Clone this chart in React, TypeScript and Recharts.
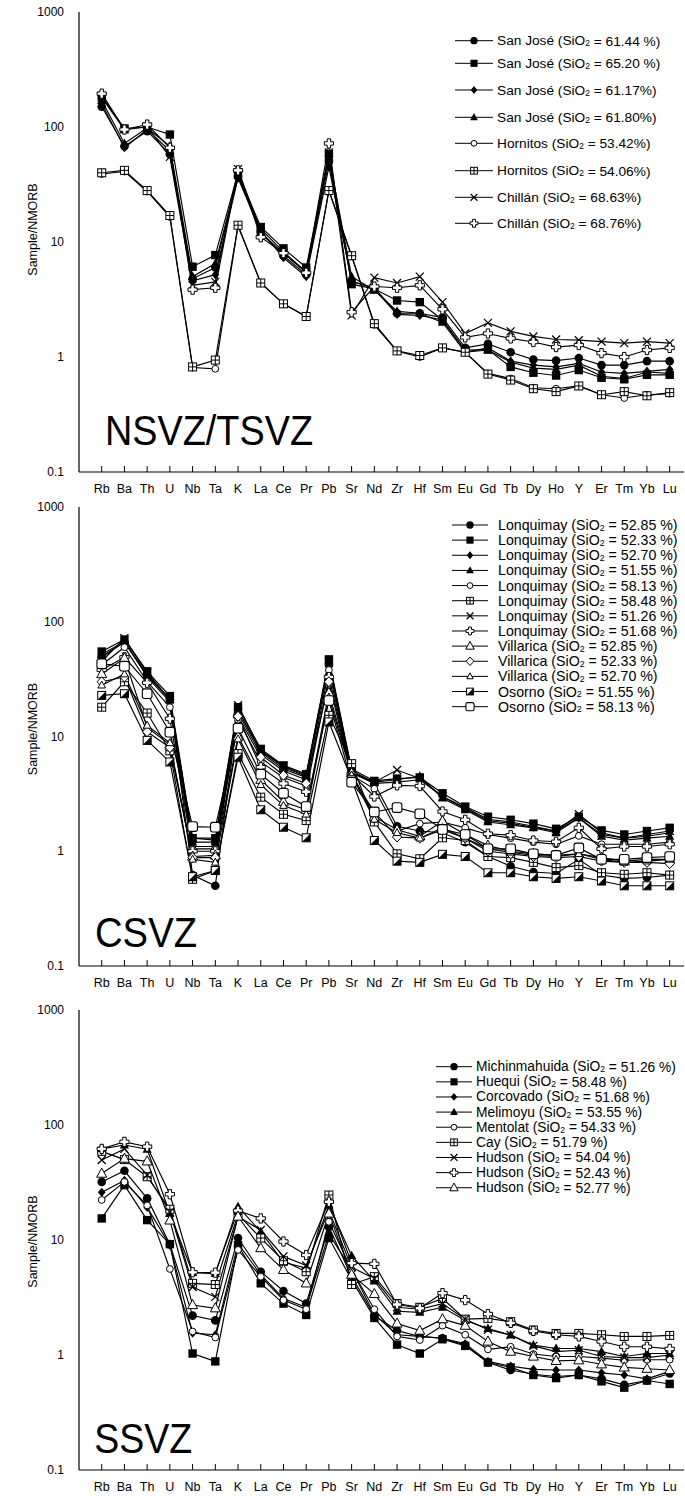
import React from "react";
import { LineChart, Line, XAxis, YAxis } from "recharts";

// x categories (N-MORB normalised spider diagram)
const elements = ["Rb", "Ba", "Th", "U", "Nb", "Ta", "K", "La", "Ce", "Pr", "Pb", "Sr", "Nd", "Zr", "Hf", "Sm", "Eu", "Gd", "Tb", "Dy", "Ho", "Y", "Er", "Tm", "Yb", "Lu"];
const xTicks = elements.map((_, i) => i + 1);
const yTicks = [0.1, 1, 10, 100, 1000];

// NSVZ/TSVZ
const sj6144 = [150, 68, 92, 58, 4.8, 6.0, 37, 12, 7.6, 5.2, 50, 4.5, 4.0, 2.4, 2.4, 2.2, 1.2, 1.3, 1.1, 0.95, 0.93, 0.98, 0.85, 0.85, 0.92, 0.92];
const sj6520 = [185, 97, 100, 86, 6.1, 7.7, 40, 13.5, 8.8, 6.0, 58, 4.3, 3.9, 3.1, 3.0, 2.1, 1.15, 1.16, 0.82, 0.73, 0.69, 0.77, 0.66, 0.64, 0.7, 0.7];
const sj6117 = [160, 66, 95, 62, 4.6, 5.2, 36, 12.5, 7.3, 5.0, 45, 4.6, 3.9, 2.35, 2.3, 2.1, 1.1, 1.2, 0.92, 0.85, 0.82, 0.88, 0.74, 0.72, 0.75, 0.78];
const sj6180 = [170, 72, 98, 68, 5.0, 6.5, 38, 13, 8.2, 5.5, 55, 5.0, 3.8, 2.5, 2.4, 2.0, 1.1, 1.15, 0.9, 0.8, 0.78, 0.85, 0.68, 0.65, 0.74, 0.72];
const hor5342 = [39, 41, 27.5, 16.5, 0.81, 0.79, 13.7, 4.4, 2.9, 2.25, 28, 7.5, 1.9, 1.12, 1.0, 1.2, 1.1, 0.72, 0.65, 0.54, 0.53, 0.56, 0.47, 0.44, 0.47, 0.48];
const hor5406 = [40, 42, 28, 17, 0.82, 0.94, 14, 4.4, 2.9, 2.25, 28, 7.6, 1.95, 1.13, 1.03, 1.2, 1.1, 0.71, 0.63, 0.53, 0.5, 0.56, 0.47, 0.5, 0.46, 0.49];
const chi6863 = [180, 95, 100, 55, 4.2, 4.5, 43, 12, 8.0, 5.5, 60, 2.3, 4.9, 4.4, 5.0, 3.0, 1.6, 1.98, 1.67, 1.51, 1.42, 1.4, 1.36, 1.32, 1.36, 1.32];
const chi6876 = [195, 95, 105, 66, 3.85, 4.0, 42, 11, 8.0, 5.4, 72, 2.45, 4.1, 4.0, 4.2, 2.6, 1.48, 1.6, 1.45, 1.35, 1.22, 1.27, 1.08, 1.0, 1.15, 1.2];

// CSVZ
const lq5285 = [50, 66, 34, 21, 0.62, 0.5, 16, 7.0, 5.0, 4.2, 42, 5.0, 3.9, 1.65, 1.5, 1.45, 1.2, 0.9, 0.74, 0.66, 0.64, 0.85, 0.62, 0.58, 0.59, 0.62];
const lq5233 = [55, 70, 37, 22.5, 1.3, 1.3, 18, 7.8, 5.6, 4.7, 47, 5.2, 4.1, 4.3, 4.4, 3.2, 2.45, 2.0, 1.88, 1.74, 1.57, 2.0, 1.52, 1.4, 1.5, 1.6];
const lq5270 = [48, 68, 33, 20, 1.1, 1.1, 17, 7.3, 5.2, 4.4, 44, 4.8, 3.9, 4.0, 4.2, 3.0, 2.35, 1.85, 1.75, 1.62, 1.5, 1.95, 1.4, 1.3, 1.35, 1.45];
const lq5155 = [52, 67, 35, 21, 1.2, 1.2, 17, 7.5, 5.4, 4.5, 46, 5.0, 4.0, 4.2, 4.5, 2.9, 2.3, 1.8, 1.7, 1.6, 1.45, 1.95, 1.35, 1.25, 1.3, 1.35];
const lq5813 = [42, 60, 30, 18, 1.05, 1.05, 14, 6.0, 4.4, 3.7, 38, 4.6, 3.5, 1.5, 1.74, 1.8, 1.6, 1.4, 1.3, 1.2, 1.15, 1.36, 1.15, 1.15, 1.15, 1.2];
const lq5848 = [18, 30, 16, 7.5, 0.57, 0.68, 7.1, 2.96, 2.1, 1.85, 15.3, 5.8, 1.8, 0.95, 0.86, 1.31, 1.24, 0.9, 0.88, 0.8, 0.72, 0.75, 0.65, 0.63, 0.65, 0.62];
const lq5126 = [45, 72, 36, 21, 1.3, 1.25, 18.7, 7.6, 5.5, 4.6, 45, 4.9, 4.0, 5.1, 4.3, 3.0, 2.4, 1.9, 1.8, 1.65, 1.5, 2.1, 1.45, 1.3, 1.4, 1.5];
const lq5168 = [38, 49, 29.4, 14.3, 1.0, 1.0, 15, 5.4, 3.9, 3.3, 33, 4.7, 3.0, 3.75, 3.7, 2.22, 1.88, 1.42, 1.38, 1.24, 1.21, 1.6, 1.05, 1.1, 1.1, 1.15];
const vi5285 = [35, 48, 12, 8.5, 0.9, 0.92, 10, 4.2, 2.7, 2.3, 24, 4.8, 2.0, 1.54, 1.35, 1.83, 1.4, 1.12, 1.0, 0.95, 0.92, 0.95, 0.88, 0.82, 0.85, 0.85];
const vi5233 = [30, 33, 11, 8, 0.88, 0.88, 15, 6.6, 4.6, 3.9, 30, 4.5, 2.2, 1.33, 1.3, 1.54, 1.3, 1.0, 0.95, 0.9, 0.88, 0.9, 0.82, 0.8, 0.8, 0.78];
const vi5270 = [28, 35, 12.5, 8.8, 0.85, 0.8, 9.5, 3.8, 2.5, 2.1, 22, 4.6, 1.9, 1.45, 1.3, 1.6, 1.3, 1.05, 0.98, 0.92, 0.9, 0.95, 0.85, 0.8, 0.82, 0.85];
const os5155 = [22.8, 23.6, 9.25, 6.0, 0.6, 0.68, 6.6, 2.3, 1.62, 1.31, 13.4, 4.2, 1.24, 0.82, 0.8, 0.94, 0.9, 0.65, 0.65, 0.6, 0.58, 0.6, 0.55, 0.5, 0.5, 0.5];
const os5813 = [43, 41, 23.6, 10.9, 1.64, 1.62, 11.8, 4.7, 3.2, 2.45, 20.6, 4.0, 2.2, 2.4, 2.12, 1.55, 1.4, 1.05, 1.05, 0.95, 0.92, 1.07, 0.85, 0.85, 0.88, 0.9];

// SSVZ
const michin = [32, 40, 23, 9.2, 2.2, 2.0, 10.4, 5.3, 3.6, 2.8, 13, 4.8, 2.2, 1.63, 1.45, 1.4, 1.22, 0.86, 0.74, 0.68, 0.65, 0.67, 0.62, 0.55, 0.6, 0.69];
const huequi = [15.4, 30, 14.9, 9.2, 1.03, 0.88, 9.0, 4.2, 2.8, 2.23, 10.4, 4.5, 2.1, 1.23, 1.03, 1.37, 1.2, 0.86, 0.78, 0.67, 0.63, 0.67, 0.59, 0.52, 0.6, 0.56];
const corcov = [26, 33, 19.2, 9.0, 1.55, 1.5, 9.3, 5.0, 3.1, 2.6, 11.3, 5.5, 2.25, 1.5, 1.45, 1.4, 1.25, 0.88, 0.8, 0.75, 0.74, 0.74, 0.7, 0.67, 0.62, 0.72];
const melim = [62, 67, 61.5, 17, 5.2, 5.1, 19.5, 11.8, 6.4, 5.7, 20, 7.3, 4.4, 2.4, 2.35, 2.6, 2.0, 1.7, 1.49, 1.22, 1.14, 1.14, 1.07, 0.97, 1.03, 1.03];
const mentol = [22.3, 32, 20, 5.6, 1.6, 1.42, 8.2, 4.8, 3.0, 2.5, 14.4, 5.5, 2.5, 1.45, 1.35, 1.8, 1.5, 1.12, 1.18, 1.02, 0.97, 0.97, 0.94, 0.9, 0.91, 0.91];
const cay = [59, 50, 35.5, 18.5, 4.2, 4.1, 16.7, 10.4, 6.6, 5.3, 24.6, 4.1, 4.8, 2.8, 2.6, 3.1, 2.05, 2.08, 1.95, 1.65, 1.54, 1.54, 1.5, 1.45, 1.45, 1.48];
const hud5404 = [49.6, 62, 36.7, 17.5, 3.9, 3.2, 16, 12.2, 7.2, 6.0, 18, 5.8, 4.6, 2.6, 2.5, 2.8, 2.05, 1.66, 1.49, 1.2, 1.07, 1.1, 0.97, 0.95, 0.95, 1.0];
const hud5243 = [62, 71.4, 64.8, 25, 5.24, 5.2, 18, 15.4, 9.7, 7.4, 21.5, 6.3, 6.2, 2.75, 2.55, 3.45, 3.0, 2.27, 1.9, 1.62, 1.5, 1.45, 1.31, 1.18, 1.18, 1.13];
const hud5277 = [37.8, 51, 48.3, 14.8, 2.72, 2.55, 16, 8.5, 5.5, 4.2, 17, 5.0, 3.4, 1.88, 1.63, 2.05, 1.8, 1.31, 1.07, 0.97, 0.89, 0.9, 0.83, 0.78, 0.76, 0.74];

type Kind =
  | "circle" | "square" | "diamond" | "triangle" | "ocircle" | "gridsq" | "cross"
  | "plus" | "otriangle" | "odiamond" | "otriSmall" | "halfsq" | "osquare";

interface Series { name: string; kind: Kind; values: number[] }

const panel1: Series[] = [
  { name: "San José (SiO₂ = 61.44 %)", kind: "circle", values: sj6144 },
  { name: "San José (SiO₂ = 65.20 %)", kind: "square", values: sj6520 },
  { name: "San José (SiO₂ = 61.17%)", kind: "diamond", values: sj6117 },
  { name: "San José (SiO₂ = 61.80%)", kind: "triangle", values: sj6180 },
  { name: "Hornitos (SiO₂ = 53.42%)", kind: "ocircle", values: hor5342 },
  { name: "Hornitos (SiO₂ = 54.06%)", kind: "gridsq", values: hor5406 },
  { name: "Chillán (SiO₂ = 68.63%)", kind: "cross", values: chi6863 },
  { name: "Chillán (SiO₂ = 68.76%)", kind: "plus", values: chi6876 },
];

const panel2: Series[] = [
  { name: "Lonquimay (SiO₂ = 52.85 %)", kind: "circle", values: lq5285 },
  { name: "Lonquimay (SiO₂ = 52.33 %)", kind: "square", values: lq5233 },
  { name: "Lonquimay (SiO₂ = 52.70 %)", kind: "diamond", values: lq5270 },
  { name: "Lonquimay (SiO₂ = 51.55 %)", kind: "triangle", values: lq5155 },
  { name: "Lonquimay (SiO₂ = 58.13 %)", kind: "ocircle", values: lq5813 },
  { name: "Lonquimay (SiO₂ = 58.48 %)", kind: "gridsq", values: lq5848 },
  { name: "Lonquimay (SiO₂ = 51.26 %)", kind: "cross", values: lq5126 },
  { name: "Lonquimay (SiO₂ = 51.68 %)", kind: "plus", values: lq5168 },
  { name: "Villarica (SiO₂ = 52.85 %)", kind: "otriangle", values: vi5285 },
  { name: "Villarica (SiO₂ = 52.33 %)", kind: "odiamond", values: vi5233 },
  { name: "Villarica (SiO₂ = 52.70 %)", kind: "otriSmall", values: vi5270 },
  { name: "Osorno (SiO₂ = 51.55 %)", kind: "halfsq", values: os5155 },
  { name: "Osorno (SiO₂ = 58.13 %)", kind: "osquare", values: os5813 },
];

const panel3: Series[] = [
  { name: "Michinmahuida (SiO₂ = 51.26 %)", kind: "circle", values: michin },
  { name: "Huequi (SiO₂ = 58.48 %)", kind: "square", values: huequi },
  { name: "Corcovado (SiO₂ = 51.68 %)", kind: "diamond", values: corcov },
  { name: "Melimoyu (SiO₂ = 53.55 %)", kind: "triangle", values: melim },
  { name: "Mentolat (SiO₂ = 54.33 %)", kind: "ocircle", values: mentol },
  { name: "Cay (SiO₂ = 51.79 %)", kind: "gridsq", values: cay },
  { name: "Hudson (SiO₂ = 54.04 %)", kind: "cross", values: hud5404 },
  { name: "Hudson (SiO₂ = 52.43 %)", kind: "plus", values: hud5243 },
  { name: "Hudson (SiO₂ = 52.77 %)", kind: "otriangle", values: hud5277 },
];

const FONT = "'Liberation Sans', Arial, Helvetica, sans-serif";
const W = 685;
const MT = 12;
const XB_H = 26;

function Marker({ kind, cx, cy, s = 1 }: { kind: Kind; cx: number; cy: number; s?: number }) {
  const k = "#000";
  const w = "#fff";
  switch (kind) {
    case "circle":
      return <circle cx={cx} cy={cy} r={4.3 * s} fill={k} />;
    case "square":
      return <rect x={cx - 4.2 * s} y={cy - 4.2 * s} width={8.4 * s} height={8.4 * s} fill={k} />;
    case "diamond":
      return <polygon points={`${cx},${cy - 4.6 * s} ${cx + 3.8 * s},${cy} ${cx},${cy + 4.6 * s} ${cx - 3.8 * s},${cy}`} fill={k} />;
    case "triangle":
      return <polygon points={`${cx},${cy - 5 * s} ${cx + 4.6 * s},${cy + 3.4 * s} ${cx - 4.6 * s},${cy + 3.4 * s}`} fill={k} />;
    case "ocircle":
      return <circle cx={cx} cy={cy} r={3.4 * s} fill={w} stroke={k} strokeWidth={1} />;
    case "gridsq": {
      const h = 4 * s;
      return (
        <g>
          <rect x={cx - h} y={cy - h} width={2 * h} height={2 * h} fill={w} stroke={k} strokeWidth={1} />
          <line x1={cx} x2={cx} y1={cy - h} y2={cy + h} stroke={k} strokeWidth={1} />
          <line x1={cx - h} x2={cx + h} y1={cy} y2={cy} stroke={k} strokeWidth={1} />
        </g>
      );
    }
    case "cross": {
      const h = 4 * s;
      return (
        <g stroke={k} strokeWidth={1.3}>
          <line x1={cx - h} y1={cy - h} x2={cx + h} y2={cy + h} />
          <line x1={cx - h} y1={cy + h} x2={cx + h} y2={cy - h} />
        </g>
      );
    }
    case "plus": {
      const a = 1.7 * s;
      const b = 4.6 * s;
      const pts = [
        [-a, -b], [a, -b], [a, -a], [b, -a], [b, a], [a, a], [a, b], [-a, b], [-a, a], [-b, a], [-b, -a], [-a, -a],
      ].map(([dx, dy]) => `${cx + dx},${cy + dy}`).join(" ");
      return <polygon points={pts} fill={w} stroke={k} strokeWidth={1} />;
    }
    case "otriangle":
      return <polygon points={`${cx},${cy - 5.5 * s} ${cx + 5 * s},${cy + 3.6 * s} ${cx - 5 * s},${cy + 3.6 * s}`} fill={w} stroke={k} strokeWidth={1} />;
    case "odiamond":
      return <polygon points={`${cx},${cy - 5 * s} ${cx + 4.6 * s},${cy} ${cx},${cy + 5 * s} ${cx - 4.6 * s},${cy}`} fill={w} stroke={k} strokeWidth={1} />;
    case "otriSmall":
      return <polygon points={`${cx},${cy - 4.2 * s} ${cx + 3.8 * s},${cy + 2.8 * s} ${cx - 3.8 * s},${cy + 2.8 * s}`} fill={w} stroke={k} strokeWidth={1} />;
    case "halfsq": {
      const h = 4 * s;
      return (
        <g>
          <rect x={cx - h} y={cy - h} width={2 * h} height={2 * h} fill={w} stroke={k} strokeWidth={1} />
          <polygon points={`${cx + h},${cy - h} ${cx + h},${cy + h} ${cx - h},${cy + h}`} fill={k} />
        </g>
      );
    }
    case "osquare": {
      const h = 4.8 * s;
      return <rect x={cx - h} y={cy - h} width={2 * h} height={2 * h} rx={2.2 * s} fill={w} stroke={k} strokeWidth={1.1} />;
    }
  }
  return null;
}

function SubName({ name, x, y, size }: { name: string; x: number; y: number; size: number }) {
  const [pre, post] = name.split("₂");
  return (
    <text x={x} y={y} fontFamily={FONT} fontSize={size} fill="#000" dominantBaseline="central">
      {pre}
      <tspan fontSize={size * 0.62} dy={2.5}>2</tspan>
      <tspan dy={-2.5}>{post}</tspan>
    </text>
  );
}

interface PanelCfg {
  series: Series[];
  plotTop: number;
  plotH: number;
}

function SpiderPanel({ cfg }: { cfg: PanelCfg }) {
  const data = elements.map((el, i) => {
    const row: Record<string, number | string> = { x: i + 1, el };
    cfg.series.forEach((s, j) => {
      row["s" + j] = s.values[i];
    });
    return row;
  });
  const axisY = MT + cfg.plotH;
  return (
    <div style={{ position: "absolute", left: 0, top: cfg.plotTop - MT }}>
      <LineChart
        width={W}
        height={MT + cfg.plotH + XB_H}
        data={data}
        margin={{ top: MT, right: 1, bottom: 0, left: 0 }}
      >
        <XAxis
          xAxisId="b"
          type="number"
          dataKey="x"
          domain={[0, 26.63]}
          ticks={xTicks}
          interval={0}
          allowDataOverflow
          height={XB_H}
          axisLine={{ stroke: "#000", strokeWidth: 1.2 }}
          tickLine={false}
          tick={(p: any) => (
            <g key={"xb" + p.index}>
              <line x1={p.x} x2={p.x} y1={axisY} y2={axisY - 6} stroke="#000" strokeWidth={1} />
              <text x={p.x} y={axisY + 17} textAnchor="middle" dominantBaseline="central" fontFamily={FONT} fontSize={12.5} fill="#000">
                {elements[p.payload.value - 1]}
              </text>
            </g>
          )}
        />
        <XAxis
          xAxisId="t"
          orientation="top"
          type="number"
          dataKey="x"
          domain={[0, 26.63]}
          ticks={xTicks}
          interval={0}
          allowDataOverflow
          height={0}
          axisLine={{ stroke: "#000", strokeWidth: 1.2 }}
          tickLine={false}
          tick={(p: any) => (
            <line key={"xt" + p.index} x1={p.x} x2={p.x} y1={MT} y2={MT + 6} stroke="#000" strokeWidth={1} />
          )}
        />
        <YAxis
          type="number"
          scale="log"
          domain={[0.1, 1000]}
          ticks={yTicks}
          interval={0}
          allowDataOverflow
          width={79}
          axisLine={{ stroke: "#000", strokeWidth: 1.2 }}
          tickLine={false}
          tick={(p: any) => (
            <text key={"y" + p.index} x={64} y={p.y} textAnchor="end" dominantBaseline="central" fontFamily={FONT} fontSize={12} fill="#000">
              {String(p.payload.value)}
            </text>
          )}
        />
        {cfg.series.map((s, j) => (
          <Line
            key={s.name + j}
            xAxisId="b"
            type="linear"
            dataKey={"s" + j}
            stroke="#000"
            strokeWidth={1.15}
            isAnimationActive={false}
            activeDot={false}
            dot={(p: any) => <Marker key={`d${j}-${p.index}`} kind={s.kind} cx={p.cx} cy={p.cy} />}
          />
        ))}
      </LineChart>
    </div>
  );
}

interface LegendCfg {
  series: Series[];
  x1: number;
  x2: number;
  tx: number;
  rows: number[];
  size: number;
}

function LegendBlock({ cfg }: { cfg: LegendCfg }) {
  const mx = (cfg.x1 + cfg.x2) / 2;
  return (
    <g>
      {cfg.series.map((s, i) => {
        const y = cfg.rows[i];
        return (
          <g key={s.name + i}>
            <line x1={cfg.x1} x2={cfg.x2} y1={y} y2={y} stroke="#000" strokeWidth={1} />
            <Marker kind={s.kind} cx={mx} cy={y} s={0.85} />
            <SubName name={s.name} x={cfg.tx} y={y} size={cfg.size} />
          </g>
        );
      })}
    </g>
  );
}

const rows1 = [40.7, 63.3, 90, 117.3, 143.3, 170.7, 197.3, 223.3];
const rows2 = panel2.map((_, i) => 525 + i * 15.14);
const rows3 = panel3.map((_, i) => 1066.7 + i * 15.13);

export default function App() {
  return (
    <div style={{ position: "absolute", left: 0, top: 0, width: W, height: 1496, background: "#fff" }}>
      <SpiderPanel cfg={{ series: panel1, plotTop: 12, plotH: 460 }} />
      <SpiderPanel cfg={{ series: panel2, plotTop: 507, plotH: 459 }} />
      <SpiderPanel cfg={{ series: panel3, plotTop: 1010, plotH: 460 }} />
      <svg width={W} height={1496} style={{ position: "absolute", left: 0, top: 0, pointerEvents: "none" }}>
        <LegendBlock cfg={{ series: panel1, x1: 455, x2: 493, tx: 497, rows: rows1, size: 13.7 }} />
        <LegendBlock cfg={{ series: panel2, x1: 452, x2: 488, tx: 498, rows: rows2, size: 14.2 }} />
        <LegendBlock cfg={{ series: panel3, x1: 436, x2: 472, tx: 476, rows: rows3, size: 13.8 }} />
        {[229.5, 729, 1241.5].map((cy, i) => (
          <text key={"yt" + i} x={33} y={cy} transform={`rotate(-90 33 ${cy})`} textAnchor="middle" dominantBaseline="central" fontFamily={FONT} fontSize={12.5} fill="#000">
            Sample/NMORB
          </text>
        ))}
        <text x={105} y={445} fontFamily={FONT} fontSize={42} textLength={208} lengthAdjust="spacingAndGlyphs" fill="#000">NSVZ/TSVZ</text>
        <text x={95} y={947} fontFamily={FONT} fontSize={42} textLength={102} lengthAdjust="spacingAndGlyphs" fill="#000">CSVZ</text>
        <text x={94.3} y={1453} fontFamily={FONT} fontSize={42} textLength={98} lengthAdjust="spacingAndGlyphs" fill="#000">SSVZ</text>
      </svg>
    </div>
  );
}
